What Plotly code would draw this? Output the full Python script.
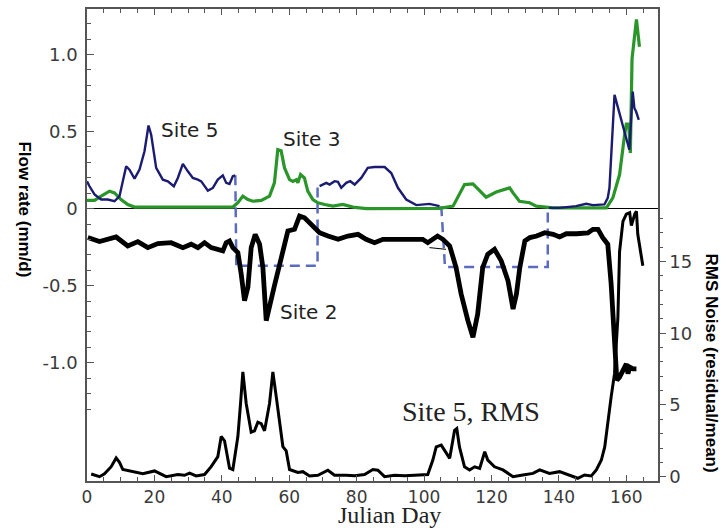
import plotly.graph_objects as go

# ---------------- data ----------------
# Site 5 flow (mm/d), three segments separated by gaps
site5_days = [0, 0.74, 2.23, 4.2, 6.18, 8.16, 9.64, 11.62, 12.6, 14.1, 15.58, 17.06, 18.25, 19.04,
              20.52, 22.5, 23.98, 25.76, 26.95, 28.44, 29.92, 31.4, 32.9, 33.9, 35.86, 37.35, 38.8,
              40.3, 41.3, 42.28, 43.27, 43.97,
              None,
              69.0, 71.0, 71.96, 73.45, 74.44, 75.43, 76.9, 78.1, 79.4, 81.36, 83.3, 85.3, 88.3,
              90.26, 92.24, 94.7, 97.7, 101.6, 104.6,
              None,
              137.0, 140.2, 145.1, 148.1, 150.1, 153.5, 154.5, 155.0, 156.5, 160.9, 161.9, 162.4,
              162.9, 163.7]
site5_flow = [0.178, 0.145, 0.092, 0.059, 0.059, 0.048, 0.081, 0.275, 0.253, 0.195, 0.253, 0.372,
              0.539, 0.479, 0.264, 0.188, 0.177, 0.145, 0.199, 0.29, 0.242, 0.199, 0.188, 0.177,
              0.117, 0.134, 0.188, 0.216, 0.167, 0.16, 0.21, 0.216,
              None,
              0.146, 0.167, 0.156, 0.178, 0.174, 0.135, 0.167, 0.178, 0.156, 0.199, 0.264, 0.27,
              0.27, 0.231, 0.135, 0.059, 0.023, 0.031, 0.016,
              None,
              0.005, 0.005, 0.016, 0.031, 0.023, 0.027, 0.07, 0.135, 0.738, 0.382, 0.759, 0.651,
              0.63, 0.576]

# Site 5 data-gap indicator (dashed)
gap_days = [44.0, 44.3, 68.4, 68.4, None, 105.1, 106.2, 136.7, 136.7]
gap_flow = [0.216, -0.371, -0.371, 0.155, None, 0.016, -0.378, -0.378, 0.016]

# Site 3 flow (mm/d)
site3_days = [0, 2.23, 4.2, 6.68, 8.16, 10.1, 12.1, 14.1, 43.27, 44.76, 46.24, 47.73, 49.2, 51.7,
              54.15, 55.6, 56.6, 57.6, 58.6, 60.1, 61.1, 62.1, 62.56, 63.35, 64.5, 65.5, 67.0,
              68.5, 70.5, 72.95, 75.9, 78.9, 82.84, 104.6, 108.6, 110.5, 112.0, 114.5, 116.5,
              118.4, 121.4, 125.4, 126.4, 128.3, 131.3, 133.3, 138.2, 154.1, 156.0, 158.0, 159.5,
              160.0, 160.7, 161.2, 161.7, 163.0, 163.9]
site3_flow = [0.053, 0.053, 0.081, 0.113, 0.102, 0.059, 0.027, 0.01, 0.01, 0.038, 0.081, 0.059,
              0.048, 0.053, 0.081, 0.167, 0.382, 0.375, 0.264, 0.188, 0.177, 0.188, 0.167, 0.221,
              0.199, 0.113, 0.059, 0.038, 0.027, 0.016, 0.027, 0.01, 0.0, 0.002, 0.016, 0.091,
              0.156, 0.16, 0.113, 0.074, 0.108, 0.135, 0.102, 0.048, 0.038, 0.016, 0.005, 0.005,
              0.07, 0.221, 0.48, 0.548, 0.548, 0.361, 0.974, 1.228, 1.05]

# Site 2 flow (mm/d, plotted downward)
site2_days = [0.25, 3.71, 8.65, 12.1, 15.08, 18.05, 21.02, 24.97, 28.44, 30.9, 32.9, 34.87, 36.84,
              40.3, 41.3, 42.28, 43.27, 44.76, 45.75, 46.74, 47.73, 48.71, 49.9, 51.2, 52.18,
              53.17, 55.6, 58.1, 59.6, 61.57, 63.06, 64.54, 66.5, 69.0, 71.5, 74.5, 77.4, 80.4,
              82.8, 85.3, 87.8, 91.7, 95.7, 99.6, 101.1, 104.0, 105.6, 107.6, 109.5, 111.0, 113.0,
              114.5, 115.9, 117.4, 118.9, 120.9, 122.9, 124.9, 126.4, 127.4, 128.4, 129.9, 131.4,
              133.4, 135.8, 138.3, 140.2, 142.2, 145.2, 148.6, 150.1, 151.6, 153.0, 154.5, 155.5,
              156.5, 157.2, 158.0, 159.0, 160.0, 160.5, 161.0, 162.0, 163.0]
site2_flow = [-0.188, -0.214, -0.184, -0.242, -0.214, -0.253, -0.227, -0.221, -0.253, -0.231,
              -0.253, -0.221, -0.253, -0.274, -0.221, -0.21, -0.253, -0.285, -0.425, -0.597,
              -0.511, -0.253, -0.167, -0.231, -0.382, -0.727, -0.5, -0.26, -0.145, -0.134, -0.048,
              -0.059, -0.102, -0.156, -0.178, -0.199, -0.178, -0.167, -0.199, -0.221, -0.199,
              -0.199, -0.199, -0.199, -0.221, -0.178, -0.199, -0.242, -0.382, -0.554, -0.727,
              -0.834, -0.684, -0.382, -0.296, -0.264, -0.339, -0.468, -0.651, -0.554, -0.382,
              -0.21, -0.188, -0.178, -0.156, -0.167, -0.184, -0.163, -0.163, -0.158, -0.134,
              -0.134, -0.188, -0.231, -0.49, -0.856, -1.114, -1.093, -1.05, -1.007, -1.071,
              -1.028, -1.039, -1.039]

# short marker stroke near day 104
mark_days = [101.6, 106.5]
mark_flow = [-0.253, -0.264]

# Site 5 RMS noise (residual/mean)
rms_days = [1.24, 3.71, 5.19, 7.17, 8.65, 9.64, 10.63, 14.1, 16.57, 20.03, 23.49, 26.95, 28.93,
            30.42, 32.39, 34.87, 36.84, 38.82, 39.81, 40.8, 42.28, 43.27, 44.76, 45.55, 46.24,
            47.23, 48.71, 49.7, 50.69, 51.68, 52.67, 54.15, 55.14, 56.13, 57.12, 58.11, 59.1,
            60.09, 62.56, 64.05, 66.02, 68.5, 71.46, 73.44, 76.9, 79.38, 82.34, 84.82, 86.3,
            88.28, 91.25, 94.2, 97.2, 101.1, 102.6, 103.6, 105.1, 107.6, 109.05, 109.7, 110.5,
            112.0, 113.5, 115.0, 116.5, 118.0, 118.9, 120.9, 123.4, 126.4, 129.3, 132.3, 134.3,
            137.2, 140.2, 143.2, 145.6, 147.6, 149.6, 151.1, 152.6, 153.6, 154.5, 155.5, 156.5,
            157.5, 158.0, 159.0, 160.0, 161.0, 161.5, 162.5, 163.0, 163.4, 164.9]
rms_noise = [0.19, 0.0, 0.2, 0.7, 1.3, 1.0, 0.5, 0.3, 0.2, 0.4, 0.0, 0.15, 0.1, 0.25, 0.05, 0.15,
             0.7, 1.4, 2.8, 2.5, 0.6, 0.5, 2.8, 5.1, 7.3, 5.1, 3.1, 3.2, 3.8, 3.7, 3.2, 5.1, 7.3,
             5.6, 4.0, 2.1, 1.8, 0.5, 0.3, 0.35, 0.05, 0.1, 0.45, 0.1, 0.1, 0.07, 0.15, 0.5, 0.45,
             0.0, 0.1, 0.07, 0.1, 0.15, 1.16, 2.08, 2.2, 1.28, 3.24, 3.36, 2.08, 0.69, 0.47, 0.69,
             0.58, 1.74, 1.16, 0.69, 0.47, 0.0, 0.12, 0.23, 0.47, 0.23, 0.35, 0.12, -0.11, 0.12,
             0.05, 0.47, 1.16, 2.08, 3.94, 5.56, 7.18, 11.1, 15.7, 17.8, 18.3, 18.4, 17.5, 18.3,
             18.5, 16.9, 14.7]

x_ticks = [0, 20, 40, 60, 80, 100, 120, 140, 160]
flow_ticks = [-1.0, -0.5, 0, 0.5, 1.0]
flow_ticktext = ["-1.0", "-0.5", "0", "0.5", "1.0"]
flow_minor = [round(-1.3 + 0.1 * i, 1) for i in range(26)]
rms_ticks = [0, 5, 10, 15]
rms_minor = list(range(0, 19))

# ---------------- figure ----------------
NAVY = "#1b1b72"
GREEN = "#2a962a"
DASH = "#5b6cbf"
TICKFONT = dict(family="DejaVu Sans", size=18, color="#3a3a3a")
XTICKFONT = dict(family="DejaVu Sans", size=17, color="#3a3a3a")

fig = go.Figure()
fig.add_trace(go.Scatter(x=gap_days, y=gap_flow, mode="lines",
                         line=dict(color=DASH, width=2.5, dash="10px,6px")))
fig.add_trace(go.Scatter(x=site3_days, y=site3_flow, mode="lines",
                         line=dict(color=GREEN, width=3.2)))
fig.add_trace(go.Scatter(x=site5_days, y=site5_flow, mode="lines",
                         line=dict(color=NAVY, width=2.4)))
fig.add_trace(go.Scatter(x=site2_days, y=site2_flow, mode="lines",
                         line=dict(color="black", width=4.8)))
fig.add_trace(go.Scatter(x=mark_days, y=mark_flow, mode="lines",
                         line=dict(color="black", width=1)))
fig.add_trace(go.Scatter(x=rms_days, y=rms_noise, mode="lines", yaxis="y2",
                         line=dict(color="black", width=3)))

fig.update_layout(
    width=728, height=530,
    margin=dict(l=87, r=70, t=7, b=49),
    paper_bgcolor="white", plot_bgcolor="white",
    showlegend=False,
    xaxis=dict(range=[0, 169.4], showgrid=False, zeroline=False,
               showline=True, linecolor="#555", linewidth=1.5, mirror="ticks",
               tickmode="array", tickvals=x_ticks, ticks="inside", ticklen=6,
               tickcolor="#555", tickwidth=1.2,
               minor=dict(dtick=5, tick0=0, ticks="inside", ticklen=4,
                          tickcolor="#555", tickwidth=1),
               ticklabelstandoff=0,
               tickfont=XTICKFONT),
    yaxis=dict(range=[-1.767, 1.295], showgrid=False,
               zeroline=True, zerolinecolor="black", zerolinewidth=1.3,
               showline=True, linecolor="#555", linewidth=1.5,
               tickmode="array", tickvals=flow_ticks, ticktext=flow_ticktext,
               ticks="inside", ticklen=7, tickcolor="#555", tickwidth=1.2,
               minor=dict(tickmode="array", tickvals=flow_minor, ticks="inside", ticklen=4,
                          tickcolor="#555", tickwidth=1),
               ticklabelstandoff=4,
               tickfont=TICKFONT),
    yaxis2=dict(range=[-0.3, 32.6], overlaying="y", side="right", showgrid=False,
                zeroline=False, showline=True, linecolor="#555", linewidth=1.5,
                tickmode="array", tickvals=rms_ticks, ticks="outside", ticklen=6,
                tickcolor="#555", tickwidth=1.2,
                minor=dict(tickmode="array", tickvals=rms_minor, ticks="outside", ticklen=3,
                           tickcolor="#555", tickwidth=1),
                tickfont=TICKFONT),
)

SANS = dict(family="DejaVu Sans", size=20, color="#222")
fig.add_annotation(x=30.4, y=0.507, xref="x", yref="y", text="Site 5",
                   showarrow=False, font=SANS)
fig.add_annotation(x=66.5, y=0.452, xref="x", yref="y", text="Site 3",
                   showarrow=False, font=SANS)
fig.add_annotation(x=65.7, y=-0.669, xref="x", yref="y", text="Site 2",
                   showarrow=False, font=SANS)
fig.add_annotation(x=114.0, y=4.56, xref="x", yref="y2", text="Site 5, RMS",
                   showarrow=False,
                   font=dict(family="Liberation Serif", size=28, color="#222"))

fig.add_annotation(x=-0.110, y=0.575, xref="paper", yref="paper",
                   xanchor="center", yanchor="middle",
                   text="<b>Flow rate (mm/d)</b>", textangle=90, showarrow=False,
                   font=dict(family="Liberation Sans", size=17, color="black"))
fig.add_annotation(x=1.0937, y=0.25, xref="paper", yref="paper",
                   xanchor="center", yanchor="middle",
                   text="<b>RMS Noise (residual/mean)</b>", textangle=90, showarrow=False,
                   font=dict(family="Liberation Sans", size=17, color="black"))
fig.add_annotation(x=0.529, y=-0.1025, xref="paper", yref="paper",
                   xanchor="center", yanchor="bottom", borderpad=0,
                   text="Julian Day", showarrow=False,
                   font=dict(family="Liberation Serif", size=24, color="#222"))

fig.write_html("out.html")
